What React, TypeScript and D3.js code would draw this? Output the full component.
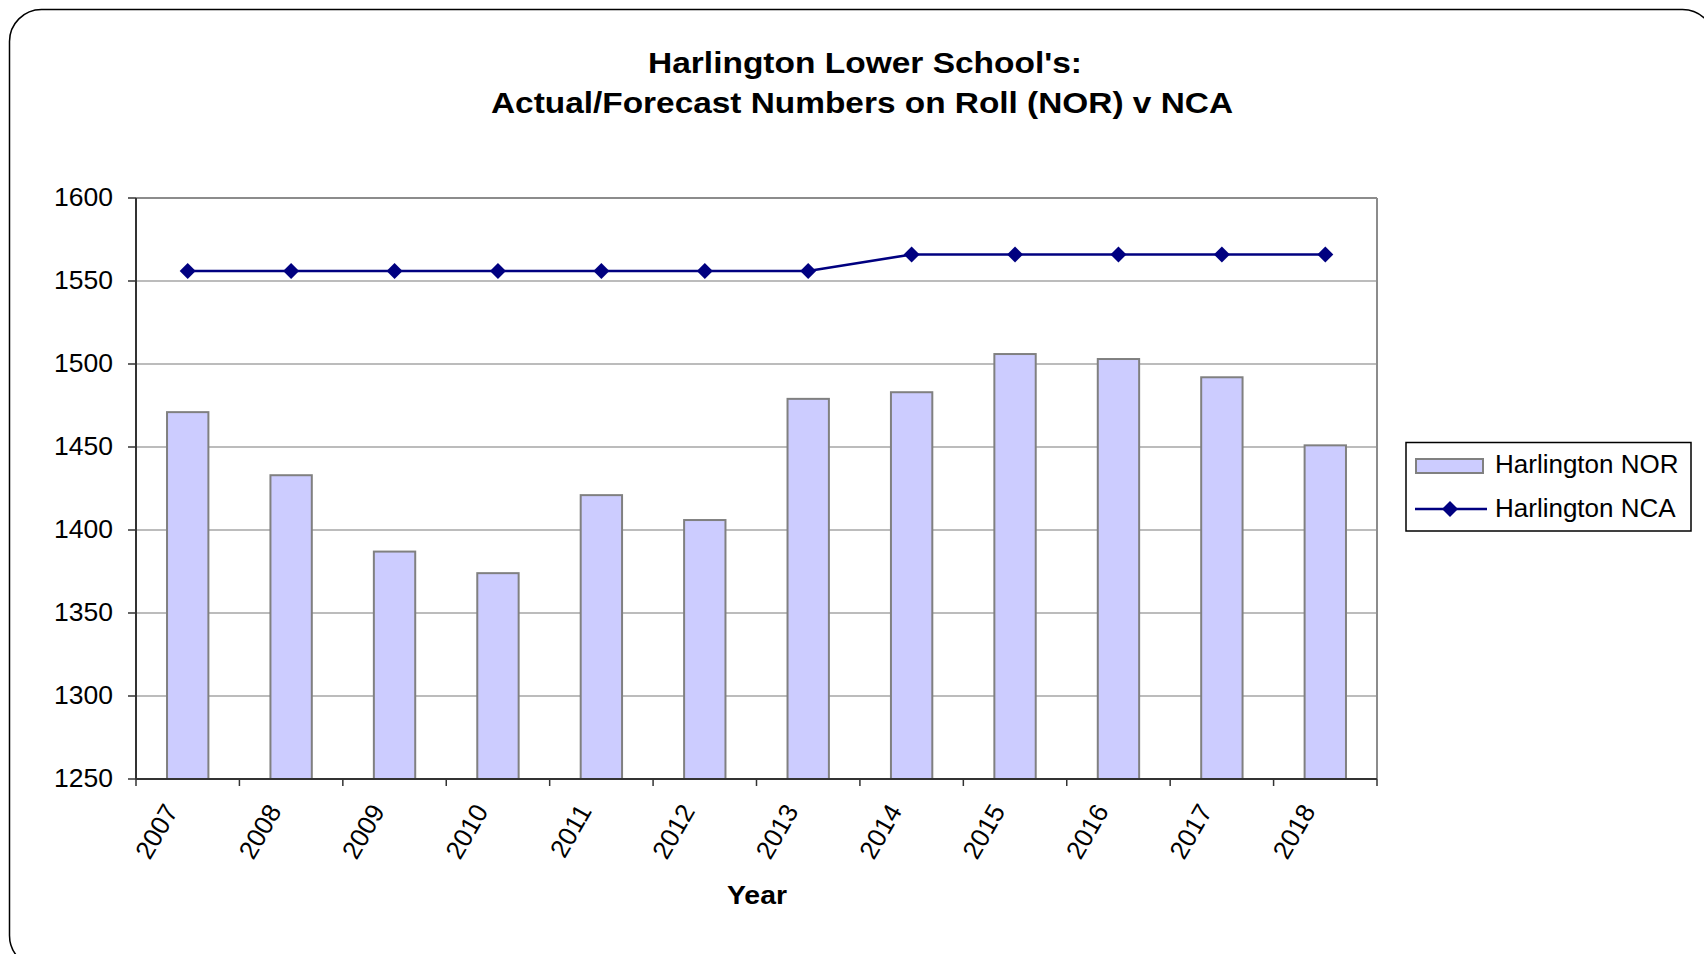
import React from 'react';
import * as d3 from 'd3';

const titleLines = ["Harlington Lower School's:", 'Actual/Forecast Numbers on Roll (NOR) v NCA'];
const years = ['2007', '2008', '2009', '2010', '2011', '2012', '2013', '2014', '2015', '2016', '2017', '2018'];
const norValues = [1471, 1433, 1387, 1374, 1421, 1406, 1479, 1483, 1506, 1503, 1492, 1451];
const ncaValues = [1556, 1556, 1556, 1556, 1556, 1556, 1556, 1566, 1566, 1566, 1566, 1566];
const yTicks = [1250, 1300, 1350, 1400, 1450, 1500, 1550, 1600];
const seriesNames = ['Harlington NOR', 'Harlington NCA'];
const xTitle = 'Year';

const W = 1704;
const H = 954;
const margin = { top: 198, right: 327, bottom: 175, left: 136 };
const FONT = '"Liberation Sans", Arial, sans-serif';

const App: React.FC = () => {
  const innerW = W - margin.left - margin.right;
  const innerH = H - margin.top - margin.bottom;

  const x = d3.scaleBand<string>()
    .domain(years)
    .range([0, innerW])
    .paddingInner(0.6)
    .paddingOuter(0.3);

  const y = d3.scaleLinear()
    .domain([1250, 1600])
    .range([innerH, 0]);

  const step = x.step();
  const cx = (yr: string) => (x(yr) ?? 0) + x.bandwidth() / 2;

  const line = d3.line<number>()
    .x((_, i) => cx(years[i]))
    .y(d => y(d));

  const diamond = (px: number, py: number, r = 8) =>
    `M${px},${py - r}L${px + r},${py}L${px},${py + r}L${px - r},${py}Z`;

  return (
    <svg width={W} height={H} style={{ position: 'absolute', left: 0, top: 0 }} fontFamily={FONT}>
      <rect x={0} y={0} width={W} height={H} fill="#fff" />
      <rect x={9.5} y={9.5} width={1705} height={958} rx={32} ry={32} fill="none" stroke="#000" strokeWidth={1.5} />

      {/* title */}
      <text x={865} y={73} textAnchor="middle" fontSize={29} fontWeight="bold" textLength={434} lengthAdjust="spacingAndGlyphs">{titleLines[0]}</text>
      <text x={862} y={113} textAnchor="middle" fontSize={29} fontWeight="bold" textLength={742} lengthAdjust="spacingAndGlyphs">{titleLines[1]}</text>

      <g transform={`translate(${margin.left},${margin.top})`}>
        {/* gridlines */}
        {yTicks.filter(t => t !== 1250).map(t => (
          <line key={t} x1={0} x2={innerW} y1={y(t)} y2={y(t)} stroke={t === 1600 ? '#8c8c8c' : '#a6a6a6'} strokeWidth={t === 1600 ? 2 : 1.5} />
        ))}
        <line x1={innerW} x2={innerW} y1={0} y2={innerH} stroke="#8c8c8c" strokeWidth={2} />

        {/* bars */}
        {years.map((yr, i) => (
          <rect key={yr} x={x(yr)} y={y(norValues[i])} width={x.bandwidth()} height={innerH - y(norValues[i])}
            fill="#ccccff" stroke="#808080" strokeWidth={2} />
        ))}

        {/* axes */}
        <line x1={0} x2={0} y1={0} y2={innerH} stroke="#333" strokeWidth={2} />
        <line x1={0} x2={innerW} y1={innerH} y2={innerH} stroke="#333" strokeWidth={2} />
        {yTicks.map(t => (
          <g key={t}>
            <line x1={-8} x2={0} y1={y(t)} y2={y(t)} stroke="#333" strokeWidth={1.5} />
            <text x={-23} y={y(t) + 7.5} textAnchor="end" fontSize={26.5}>{t}</text>
          </g>
        ))}
        {d3.range(years.length + 1).map(i => (
          <line key={i} x1={i * step} x2={i * step} y1={innerH} y2={innerH + 7} stroke="#333" strokeWidth={1.5} />
        ))}
        {years.map(yr => (
          <text key={yr} transform={`translate(${cx(yr) - 9},${innerH + 32}) rotate(-60)`} textAnchor="end" fontSize={26}>{yr}</text>
        ))}

        {/* NCA line */}
        <path d={line(ncaValues) ?? ''} fill="none" stroke="#000080" strokeWidth={2.5} />
        {ncaValues.map((v, i) => (
          <path key={i} d={diamond(cx(years[i]), y(v))} fill="#000080" />
        ))}
      </g>

      <text x={757} y={904} textAnchor="middle" fontSize={26} fontWeight="bold" textLength={60} lengthAdjust="spacingAndGlyphs">{xTitle}</text>

      {/* legend */}
      <g>
        <rect x={1406} y={442.5} width={285} height={88.5} fill="#fff" stroke="#000" strokeWidth={1.5} />
        <rect x={1416} y={459} width={67} height={14} fill="#ccccff" stroke="#808080" strokeWidth={2} />
        <text x={1495} y={473} fontSize={26}>{seriesNames[0]}</text>
        <line x1={1415} x2={1487} y1={509} y2={509} stroke="#000080" strokeWidth={2.5} />
        <path d={diamond(1450, 509)} fill="#000080" />
        <text x={1495} y={517} fontSize={26}>{seriesNames[1]}</text>
      </g>
    </svg>
  );
};

export default App;
